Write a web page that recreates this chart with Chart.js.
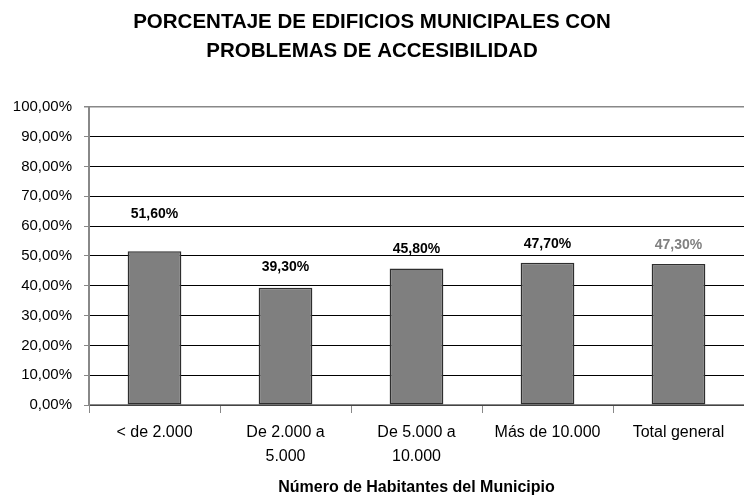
<!DOCTYPE html>
<html>
<head>
<meta charset="utf-8">
<script src="https://cdn.jsdelivr.net/npm/chart.js@4"></script>
<style>
  html, body { margin: 0; padding: 0; background: #fff; }
  #wrap { width: 744px; height: 495px; }
</style>
</head>
<body>
<div id="wrap"><canvas id="accChart" width="744" height="495"></canvas></div>
<script>
const categories = ['< de 2.000', ['De 2.000 a', '5.000'], ['De 5.000 a', '10.000'], 'Más de 10.000', 'Total general'];
const percentages = [51.6, 39.3, 45.8, 47.7, 47.3];
const yTicks = [0, 10, 20, 30, 40, 50, 60, 70, 80, 90, 100];

const fmt = v => v.toFixed(2).replace('.', ',') + '%';

// value labels above bars (positions were moved by hand in the original)
const valueLabels = {
    id: 'valueLabels',
    afterDatasetsDraw(chart, args, opts) {
        const ctx = chart.ctx;
        const meta = chart.getDatasetMeta(0);
        ctx.save();
        ctx.font = 'bold 14px "Liberation Sans", Arial, sans-serif';
        ctx.textAlign = 'center';
        ctx.textBaseline = 'middle';
        meta.data.forEach((bar, i) => {
            ctx.fillStyle = opts.colors[i];
            ctx.fillText(fmt(percentages[i]), bar.x, bar.y - opts.lift[i]);
        });
        ctx.restore();
    }
};

new Chart(document.getElementById('accChart').getContext('2d'), {
    type: 'bar',
    data: {
        labels: categories,
        datasets: [{
            data: percentages,
            backgroundColor: '#7f7f7f',
            borderColor: '#2e2e2e',
            borderWidth: 1.5,
            borderSkipped: false,
            categoryPercentage: 1,
            barPercentage: 0.41
        }]
    },
    options: {
        responsive: false,
        animation: false,
        layout: { padding: { left: 0, right: 0, top: 0, bottom: 0 } },
        plugins: {
            legend: { display: false },
            tooltip: { enabled: false },
            title: {
                display: true,
                text: ['PORCENTAJE DE EDIFICIOS MUNICIPALES CON', 'PROBLEMAS DE ACCESIBILIDAD'],
                color: '#000',
                font: { family: '"Liberation Sans", Arial, sans-serif', size: 20.5, weight: 'bold', lineHeight: 1.41 },
                padding: { top: 8, bottom: 41 }
            },
            valueLabels: {
                lift: [37, 21, 19, 19, 19],
                colors: ['#000', '#000', '#000', '#000', '#808080']
            }
        },
        scales: {
            x: {
                grid: { drawOnChartArea: false, tickLength: 8, tickColor: '#888', offset: true },
                border: { color: '#888', width: 1.5 },
                ticks: {
                    color: '#000',
                    padding: 8,
                    maxRotation: 0,
                    font: { family: '"Liberation Sans", Arial, sans-serif', size: 16, lineHeight: 1.5 }
                },
                title: {
                    display: true,
                    text: 'Número de Habitantes del Municipio',
                    color: '#000',
                    font: { family: '"Liberation Sans", Arial, sans-serif', size: 16, weight: 'bold', lineHeight: 0.9 },
                    padding: { top: 0, bottom: 0 }
                },
                afterFit(scale) { scale.height = 90; }
            },
            y: {
                min: 0,
                max: 100,
                afterBuildTicks(scale) { scale.ticks = yTicks.map(v => ({ value: v })); },
                grid: {
                    color: c => (c.tick && c.tick.value === 100) ? '#888' : '#000',
                    lineWidth: c => (c.tick && c.tick.value === 100) ? 1.5 : 1,
                    tickLength: 5,
                    tickColor: '#888'
                },
                border: { color: '#888', width: 2 },
                ticks: {
                    color: '#000',
                    padding: 12,
                    font: { family: '"Liberation Sans", Arial, sans-serif', size: 15 },
                    callback: v => fmt(v)
                },
                afterFit(scale) { scale.width = 89; }
            }
        }
    },
    plugins: [valueLabels]
});
</script>
</body>
</html>
